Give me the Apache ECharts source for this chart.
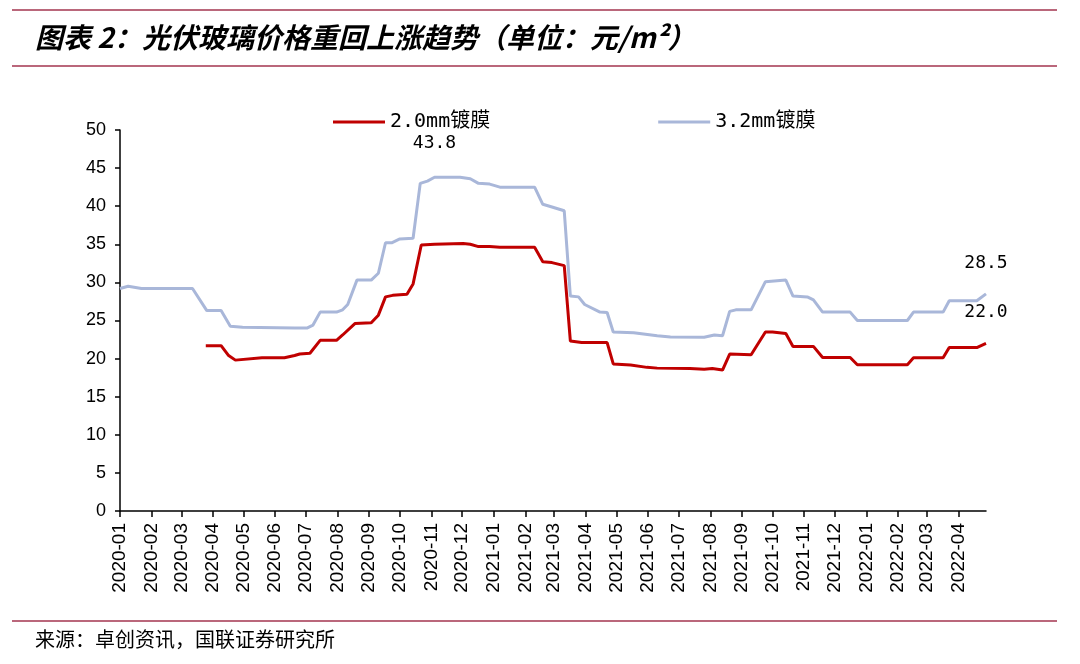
<!DOCTYPE html>
<html>
<head>
<meta charset="utf-8">
<script src="https://cdn.jsdelivr.net/npm/echarts@6/dist/echarts.min.js"></script>
<style>
html,body{margin:0;padding:0;background:#fff;}
#c{width:1080px;height:664px;}
</style>
</head>
<body>
<div id="c"></div>
<script>
// ---- data ----
const seriesNames = ['2.0mm镀膜', '3.2mm镀膜'];

const dates20 = ['2020-03-25','2020-04-09','2020-04-16','2020-04-23','2020-05-19','2020-06-10','2020-06-20','2020-06-25','2020-07-05','2020-07-15','2020-07-31','2020-08-06','2020-08-18','2020-09-03','2020-09-10','2020-09-17','2020-09-24','2020-10-08','2020-10-14','2020-10-22','2020-11-04','2020-12-02','2020-12-09','2020-12-17','2020-12-28','2021-01-07','2021-02-10','2021-02-18','2021-02-27','2021-03-11','2021-03-17','2021-03-28','2021-04-22','2021-04-28','2021-05-15','2021-05-31','2021-06-10','2021-07-12','2021-07-26','2021-08-03','2021-08-13','2021-08-20','2021-09-10','2021-09-24','2021-10-01','2021-10-14','2021-10-21','2021-11-10','2021-11-19','2021-12-16','2021-12-23','2022-02-10','2022-02-16','2022-03-17','2022-03-23','2022-04-19','2022-04-28'];
const vals20 = [21.7,21.7,20.45,19.8,20.1,20.1,20.4,20.6,20.7,22.4,22.4,23.1,24.6,24.7,25.7,28.1,28.3,28.45,29.8,34.9,35.0,35.1,35.0,34.7,34.7,34.6,34.6,32.7,32.6,32.2,22.3,22.1,22.1,19.3,19.15,18.85,18.75,18.7,18.6,18.7,18.5,20.6,20.5,23.5,23.5,23.3,21.6,21.6,20.15,20.15,19.2,19.2,20.1,20.1,21.45,21.45,22.0];

const dates32 = ['2020-01-01','2020-01-09','2020-01-22','2020-03-12','2020-03-26','2020-04-09','2020-04-18','2020-04-30','2020-06-20','2020-07-02','2020-07-08','2020-07-15','2020-07-31','2020-08-06','2020-08-11','2020-08-20','2020-09-03','2020-09-10','2020-09-17','2020-09-23','2020-10-01','2020-10-14','2020-10-21','2020-10-28','2020-11-04','2020-11-29','2020-12-09','2020-12-17','2020-12-28','2021-01-07','2021-02-10','2021-02-18','2021-02-27','2021-03-11','2021-03-17','2021-03-25','2021-03-31','2021-04-15','2021-04-22','2021-04-28','2021-05-18','2021-06-10','2021-06-23','2021-07-26','2021-08-05','2021-08-13','2021-08-20','2021-08-26','2021-09-10','2021-09-24','2021-10-14','2021-10-21','2021-11-04','2021-11-10','2021-11-19','2021-12-16','2021-12-23','2022-02-10','2022-02-16','2022-03-17','2022-03-23','2022-04-19','2022-04-28'];
const vals32 = [29.2,29.5,29.2,29.2,26.3,26.3,24.25,24.1,24.0,24.0,24.4,26.1,26.1,26.4,27.1,30.3,30.3,31.2,35.2,35.2,35.7,35.8,43.0,43.3,43.8,43.8,43.6,43.0,42.9,42.5,42.5,40.25,39.9,39.4,28.2,28.1,27.1,26.1,26.05,23.5,23.4,23.0,22.85,22.8,23.1,23.0,26.2,26.4,26.4,30.1,30.3,28.2,28.1,27.7,26.1,26.1,25.0,25.0,26.1,26.1,27.6,27.6,28.5];

// points that carry a value label
const labelled20 = ['2022-04-28'];
const labelled32 = ['2020-11-04', '2022-04-28'];

const yMin = 0, yMax = 50, yStep = 5;
const xMin = '2020-01-01', xMax = '2022-04-28';

const titleText = '图表 2：光伏玻璃价格重回上涨趋势（单位：元/m²）';
const sourceText = '来源：卓创资讯，国联证券研究所';

// ---- build ----
function marks(dates, vals, labelled, dist) {
  return labelled.map(d => {
    const i = dates.indexOf(d);
    return {
      coord: [d, vals[i]], value: vals[i],
      label: { distance: dist[d] || 20 }
    };
  });
}

const monoFont = '"DejaVu Sans Mono", "Noto Sans CJK SC", monospace';
const axisFont = '"Liberation Sans", Arial, sans-serif';
const ruleColor = '#a3354f';

function markPointOpt(data) {
  return {
    symbol: 'circle', symbolSize: 0, silent: true,
    itemStyle: { color: 'transparent' },
    label: {
      show: true, position: 'top', color: '#000',
      fontFamily: monoFont, fontSize: 18,
      formatter: p => Number(p.value).toFixed(1)
    },
    data: data
  };
}

const chart = echarts.init(document.getElementById('c'), null, { renderer: 'canvas' });
chart.setOption({
  animation: false,
  backgroundColor: '#fff',
  grid: { left: 120, right: 94, top: 130, bottom: 153, containLabel: false },
  legend: {
    left: 328, top: 107,
    itemWidth: 52, itemHeight: 3, itemGap: 168,
    icon: 'rect',
    textStyle: { fontFamily: monoFont, fontSize: 20, color: '#000' },
    data: seriesNames
  },
  xAxis: {
    type: 'time',
    min: xMin, max: xMax,
    splitNumber: 28,
    minInterval: 28 * 86400000,
    maxInterval: 31 * 86400000,
    axisLine: { lineStyle: { color: '#000', width: 1.5 } },
    axisTick: { show: true, length: 6, lineStyle: { color: '#000', width: 1.5 } },
    splitLine: { show: false },
    axisLabel: {
      rotate: 90,
      fontFamily: axisFont,
      fontSize: 19,
      color: '#000',
      margin: 12,
      hideOverlap: false,
      showMinLabel: true,
      showMaxLabel: false,
      formatter: function (v) { return echarts.time.format(v, '{yyyy}-{MM}', false); }
    }
  },
  yAxis: {
    type: 'value', min: yMin, max: yMax, interval: yStep,
    axisLine: { show: true, lineStyle: { color: '#000', width: 1.5 } },
    axisTick: { show: true, length: 5, lineStyle: { color: '#000', width: 1.5 } },
    splitLine: { show: false },
    axisLabel: { fontFamily: axisFont, fontSize: 18, color: '#000', margin: 14 }
  },
  series: [
    {
      name: seriesNames[0], type: 'line', showSymbol: false, symbol: 'none',
      lineStyle: { color: '#c00000', width: 3 }, itemStyle: { color: '#c00000' },
      data: dates20.map((d, i) => [d, vals20[i]]),
      markPoint: markPointOpt(marks(dates20, vals20, labelled20, { '2022-04-28': 22 })),
      z: 3
    },
    {
      name: seriesNames[1], type: 'line', showSymbol: false, symbol: 'none',
      lineStyle: { color: '#a9b7d9', width: 3 }, itemStyle: { color: '#a9b7d9' },
      data: dates32.map((d, i) => [d, vals32[i]]),
      markPoint: markPointOpt(marks(dates32, vals32, labelled32, { '2020-11-04': 25, '2022-04-28': 22 })),
      z: 2
    }
  ],
  graphic: [
    { type: 'line', shape: { x1: 12, y1: 10, x2: 1057, y2: 10 }, style: { stroke: ruleColor, lineWidth: 1.5 } },
    { type: 'line', shape: { x1: 12, y1: 66, x2: 1057, y2: 66 }, style: { stroke: ruleColor, lineWidth: 1.5 } },
    { type: 'line', shape: { x1: 12, y1: 621, x2: 1057, y2: 621 }, style: { stroke: ruleColor, lineWidth: 1.5 } },
    { type: 'text', left: 35, top: 23, style: { text: titleText, fill: '#000', font: 'italic bold 28px "Noto Sans CJK SC", sans-serif' } },
    { type: 'text', left: 35, top: 629, style: { text: sourceText, fill: '#000', font: '20px "Noto Sans CJK SC", sans-serif' } }
  ]
});
</script>
</body>
</html>
